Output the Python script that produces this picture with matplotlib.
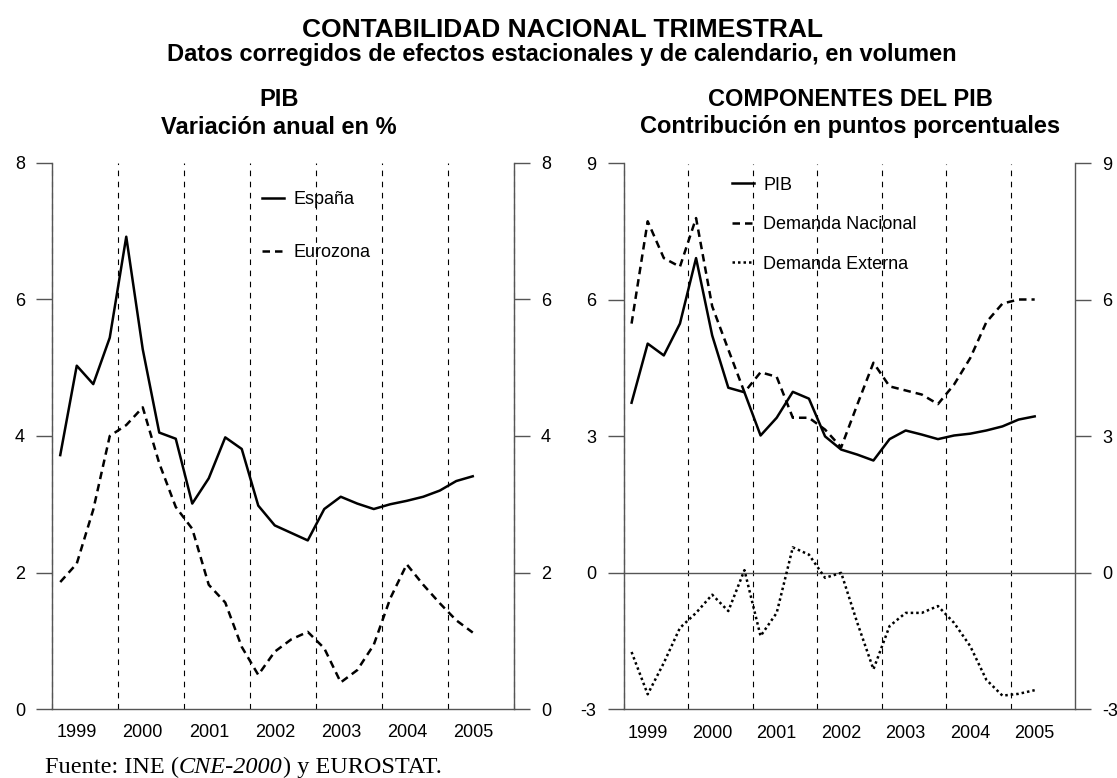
import matplotlib
matplotlib.use("Agg")
import matplotlib.pyplot as plt
from matplotlib.offsetbox import TextArea, HPacker, AnchoredOffsetbox

plt.rcParams['font.family'] = ['Liberation Sans', 'DejaVu Sans']

# quarterly data, 1999Q1 .. 2005Q2
years = [1999, 2000, 2001, 2002, 2003, 2004, 2005]
n_q = 26
quarters = [1999 + (i // 4) + ((i % 4) + 0.5) / 4 for i in range(n_q)]

espana = [3.72, 5.03, 4.76, 5.44, 6.92, 5.27, 4.05, 3.96,
          3.01, 3.38, 3.98, 3.81, 2.98, 2.69, 2.58, 2.47,
          2.93, 3.11, 3.01, 2.93, 3.00, 3.05, 3.11, 3.20,
          3.34, 3.41]
eurozona = [1.86, 2.13, 2.92, 4.00, 4.16, 4.42, 3.60, 2.96,
            2.64, 1.82, 1.56, 0.91, 0.50, 0.84, 1.02, 1.13,
            0.89, 0.39, 0.57, 0.94, 1.62, 2.12, 1.82, 1.55,
            1.30, 1.12]

pib = [3.74, 5.04, 4.78, 5.48, 6.92, 5.22, 4.07, 3.97,
       3.02, 3.41, 3.98, 3.83, 3.00, 2.71, 2.60, 2.47,
       2.94, 3.13, 3.04, 2.94, 3.02, 3.06, 3.13, 3.22,
       3.37, 3.44]
demanda_nacional = [5.48, 7.73, 6.92, 6.73, 7.80, 5.86, 4.91, 3.97,
                    4.41, 4.31, 3.41, 3.41, 3.15, 2.76, 3.70, 4.62,
                    4.10, 4.01, 3.92, 3.71, 4.14, 4.72, 5.51, 5.92,
                    6.01, 6.01]
demanda_externa = [-1.74, -2.67, -1.98, -1.21, -0.88, -0.48, -0.84, 0.06,
                   -1.39, -0.88, 0.56, 0.40, -0.11, 0.00, -1.10, -2.12,
                   -1.17, -0.88, -0.88, -0.73, -1.10, -1.61, -2.35, -2.70,
                   -2.66, -2.58]

W, H = 1117, 778
fig = plt.figure(figsize=(W / 100, H / 100), dpi=100)

ax1 = fig.add_axes([52 / W, 1 - 709 / H, 462 / W, 546 / H])
ax2 = fig.add_axes([623.5 / W, 1 - 709.3 / H, 451.5 / W, 545.8 / H])

grey = '#555555'


def style_axis(ax, ylim, yticks):
    ax.set_xlim(1999, 2006)
    ax.set_ylim(*ylim)
    ax.set_yticks(yticks)
    ax.set_yticklabels([str(t) for t in yticks])
    ax.set_xticks([y + 0.375 for y in years])
    ax.set_xticklabels([str(y) for y in years])
    ax.tick_params(axis='x', length=0, pad=11, labelsize=13)
    ax.tick_params(axis='y', left=True, right=True, labelleft=True,
                   labelright=True, length=11.5, width=1, color=grey,
                   pad=8, labelsize=13, direction='out')
    ax.spines['top'].set_visible(False)
    for s in ['left', 'right', 'bottom']:
        ax.spines[s].set_color(grey)
        ax.spines[s].set_linewidth(1)
    for y in years[1:]:
        ax.axvline(y, color='black', lw=0.8, dashes=(5, 5))


style_axis(ax1, (0, 8), [0, 2, 4, 6, 8])
style_axis(ax2, (-3, 9), [-3, 0, 3, 6, 9])
ax1.axvline(1999, color='black', lw=0.8, dashes=(5, 5), clip_on=False)
ax1.axvline(2006, color='black', lw=0.8, dashes=(5, 5), clip_on=False)
ax2.axvline(1999, color='black', lw=0.8, dashes=(5, 5), clip_on=False)
ax2.axhline(0, color=grey, lw=1)

# left panel
l1, = ax1.plot(quarters, espana, color='black', lw=1.8, label='España')
l2, = ax1.plot(quarters, eurozona, color='black', lw=1.8, dashes=(3, 2),
               label='Eurozona')
ax1.legend(handles=[l1, l2], loc='upper left', bbox_to_anchor=(0.4545, 0.949),
           frameon=False, fontsize=13, handlelength=1.2, handletextpad=0.55,
           labelspacing=2.0, borderpad=0, borderaxespad=0)

# right panel
r1, = ax2.plot(quarters, pib, color='black', lw=1.8, label='PIB')
r2, = ax2.plot(quarters, demanda_nacional, color='black', lw=1.8,
               dashes=(3, 2), label='Demanda Nacional')
r3, = ax2.plot(quarters, demanda_externa, color='black', lw=1.8,
               dashes=(1, 1.2), label='Demanda Externa')
ax2.legend(handles=[r1, r2, r3], loc='upper left', bbox_to_anchor=(0.240, 0.976),
           frameon=False, fontsize=13, handlelength=1.2, handletextpad=0.55,
           labelspacing=1.25, borderpad=0, borderaxespad=0)

# titles
fig.text(562 / W, 1 - 30 / H, 'CONTABILIDAD NACIONAL TRIMESTRAL',
         ha='center', va='center', fontsize=19, fontweight='bold')
fig.text(562 / W, 1 - 55 / H,
         'Datos corregidos de efectos estacionales y de calendario, en volumen',
         ha='center', va='center', fontsize=17, fontweight='bold')
fig.text(279 / W, 1 - 100 / H, 'PIB', ha='center', va='center',
         fontsize=17, fontweight='bold')
fig.text(279 / W, 1 - 127 / H, 'Variación anual en %', ha='center',
         va='center', fontsize=17, fontweight='bold')
fig.text(850 / W, 1 - 100 / H, 'COMPONENTES DEL PIB', ha='center',
         va='center', fontsize=17, fontweight='bold')
fig.text(850 / W, 1 - 127 / H, 'Contribución en puntos porcentuales',
         ha='center', va='center', fontsize=17, fontweight='bold')

# source line
serif = dict(family='Liberation Serif', size=17.5, color='black')
parts = HPacker(children=[
    TextArea('Fuente: INE (', textprops=serif),
    TextArea('CNE-2000', textprops=dict(serif, style='italic')),
    TextArea(') y EUROSTAT.', textprops=serif),
], sep=0, pad=0, align='baseline')
box = AnchoredOffsetbox(loc='center left', child=parts, pad=0, borderpad=0,
                        frameon=False, bbox_to_anchor=(45 / W, 1 - 767 / H),
                        bbox_transform=fig.transFigure)
fig.add_artist(box)

fig.savefig('out.png', dpi=100)
